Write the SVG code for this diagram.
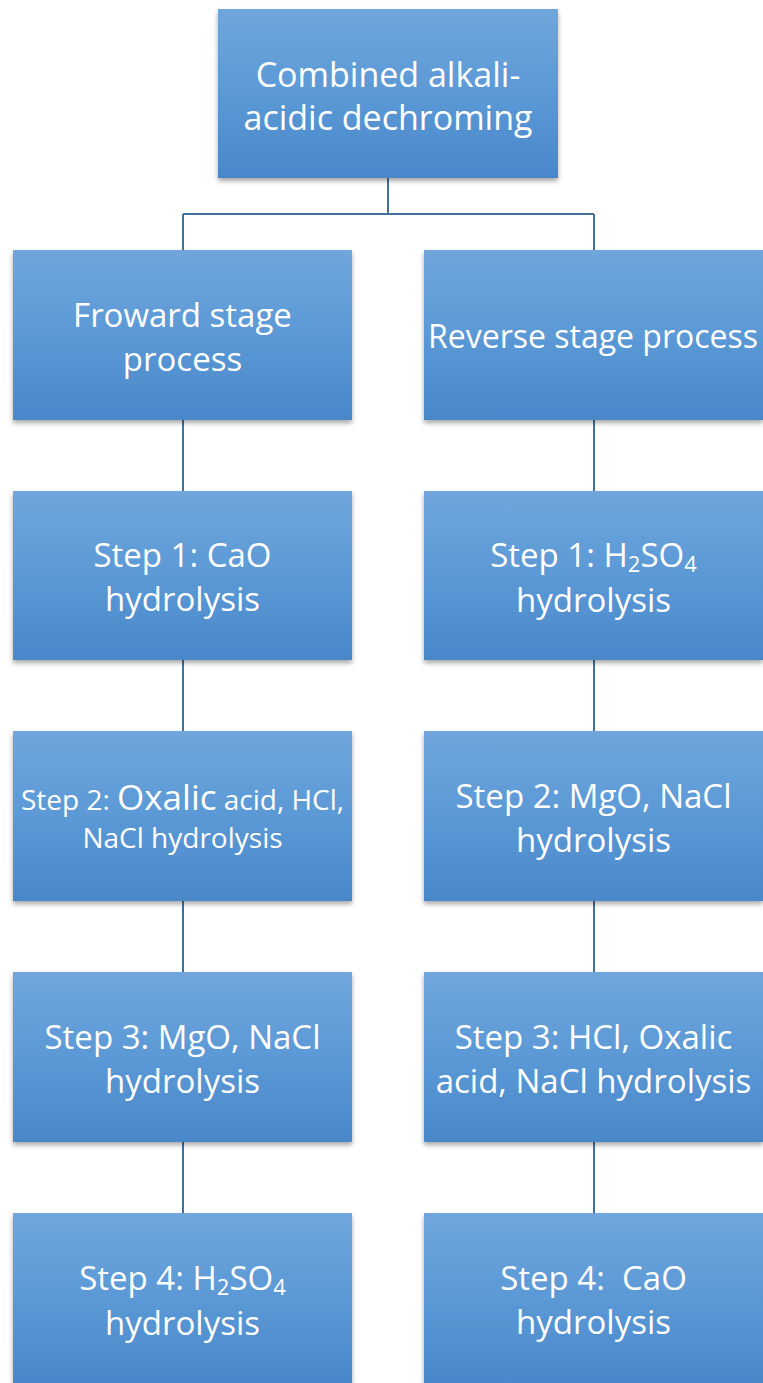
<svg xmlns="http://www.w3.org/2000/svg" width="763" height="1383" viewBox="0 0 763 1383">
<style>
.box{fill:url(#g);filter:url(#sh)}
.t{font-family:"Open Sans","Noto Sans","Liberation Sans",sans-serif;fill:#ffffff;text-anchor:middle;font-size:33px}
.conn{stroke:#41719c;stroke-width:2;fill:none}
</style>
<defs>
<linearGradient id="g" x1="0" y1="0" x2="0" y2="1">
<stop offset="0" stop-color="#70a6dc"/>
<stop offset="0.5" stop-color="#5b99d6"/>
<stop offset="1" stop-color="#4987c9"/>
</linearGradient>
<filter id="sh" x="-10%" y="-10%" width="120%" height="130%">
<feDropShadow dx="0" dy="3" stdDeviation="2.5" flood-color="#000" flood-opacity="0.35"/>
</filter>
</defs>
<rect width="763" height="1383" fill="#ffffff"/>
<g id="connectors">
<path class="conn" d="M388 178 V214 M183 214 H594 M183 214 V250 M594 214 V250"/>
<path class="conn" d="M183 420 V491 M183 660 V731 M183 901 V972 M183 1142 V1213"/>
<path class="conn" d="M594 420 V491 M594 660 V731 M594 901 V972 M594 1142 V1213"/>
</g>
<g id="n0">
<rect class="box" x="218" y="9" width="340" height="169"/>
<text class="t" x="388" y="87" style="font-size:34px">Combined alkali-</text>
<text class="t" x="388" y="130" style="font-size:34px">acidic dechroming</text>
</g>
<g id="n1">
<rect class="box" x="13" y="250" width="339" height="170"/>
<text class="t" x="182.5" y="327">Froward stage</text>
<text class="t" x="182.5" y="371">process</text>
</g>
<g id="n2">
<rect class="box" x="424" y="250" width="339" height="170"/>
<text class="t" x="593" y="348" style="font-size:32px">Reverse stage process</text>
</g>
<g id="n3">
<rect class="box" x="13" y="491" width="339" height="169"/>
<text class="t" x="182.5" y="567">Step 1: CaO</text>
<text class="t" x="182.5" y="611">hydrolysis</text>
</g>
<g id="n4">
<rect class="box" x="424" y="491" width="339" height="169"/>
<text class="t" x="593.5" y="567">Step 1: H<tspan dy="5" style="font-size:22px">2</tspan><tspan dy="-5">SO</tspan><tspan dy="5" style="font-size:22px">4</tspan></text>
<text class="t" x="593.5" y="612">hydrolysis</text>
</g>
<g id="n5">
<rect class="box" x="13" y="731" width="339" height="170"/>
<text class="t" x="182.5" y="810" style="font-size:28px">Step 2: <tspan style="font-size:35px">Oxalic</tspan> acid, HCl,</text>
<text class="t" x="182.5" y="848" style="font-size:28px">NaCl hydrolysis</text>
</g>
<g id="n6">
<rect class="box" x="424" y="731" width="339" height="170"/>
<text class="t" x="593.5" y="808">Step 2: MgO, NaCl</text>
<text class="t" x="593.5" y="852">hydrolysis</text>
</g>
<g id="n7">
<rect class="box" x="13" y="972" width="339" height="170"/>
<text class="t" x="182.5" y="1049">Step 3: MgO, NaCl</text>
<text class="t" x="182.5" y="1093">hydrolysis</text>
</g>
<g id="n8">
<rect class="box" x="424" y="972" width="339" height="170"/>
<text class="t" x="593.5" y="1049">Step 3: HCl, Oxalic</text>
<text class="t" x="593.5" y="1093">acid, NaCl hydrolysis</text>
</g>
<g id="n9">
<rect class="box" x="13" y="1213" width="339" height="170"/>
<text class="t" x="182.5" y="1290">Step 4: H<tspan dy="5" style="font-size:22px">2</tspan><tspan dy="-5">SO</tspan><tspan dy="5" style="font-size:22px">4</tspan></text>
<text class="t" x="182.5" y="1335">hydrolysis</text>
</g>
<g id="n10">
<rect class="box" x="424" y="1213" width="339" height="170"/>
<text class="t" x="593.5" y="1290" xml:space="preserve">Step 4:  CaO</text>
<text class="t" x="593.5" y="1334">hydrolysis</text>
</g>
</svg>
